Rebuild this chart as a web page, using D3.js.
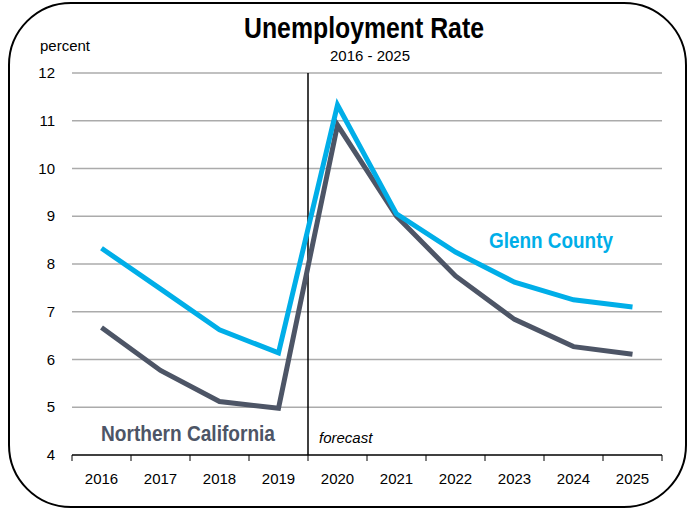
<!DOCTYPE html>
<html>
<head>
<meta charset="utf-8">
<script src="https://cdn.jsdelivr.net/npm/d3@7"></script>
<style>
  body { margin: 0; background: #fff; }
  svg text { font-family: "Liberation Sans Narrow", "Arial Narrow", "Liberation Sans", sans-serif; }
</style>
</head>
<body>
<svg id="chart" width="690" height="510"></svg>
<script>
const years = ["2016", "2017", "2018", "2019", "2020", "2021", "2022", "2023", "2024", "2025"];
const glennCounty = [8.33, 7.48, 6.62, 6.14, 11.33, 9.05, 8.25, 7.62, 7.25, 7.1];
const northernCalifornia = [6.67, 5.77, 5.12, 4.98, 10.91, 9.0, 7.75, 6.84, 6.27, 6.11];
const yTicks = [4, 5, 6, 7, 8, 9, 10, 11, 12];

const margin = {top: 73, right: 28, bottom: 55, left: 72};
const width = 690 - margin.left - margin.right;
const height = 510 - margin.top - margin.bottom;

const svg = d3.select("#chart");

// rounded frame
svg.append("rect")
    .attr("x", 9).attr("y", 3)
    .attr("width", 677).attr("height", 504)
    .attr("rx", 62).attr("ry", 62)
    .attr("fill", "none")
    .attr("stroke", "#000")
    .attr("stroke-width", 2);

const g = svg.append("g")
    .attr("transform", `translate(${margin.left},${margin.top})`);

const x = d3.scaleBand().domain(years).range([0, width]).padding(0);
const y = d3.scaleLinear().domain([4, 12]).range([height, 0]);
const cx = d => x(d) + x.bandwidth() / 2;

// gridlines
g.selectAll(".grid")
    .data(yTicks.filter(t => t > 4))
    .enter().append("line")
    .attr("x1", 0).attr("x2", width)
    .attr("y1", d => y(d)).attr("y2", d => y(d))
    .attr("stroke", "#ababab")
    .attr("stroke-width", 1.3);

// y labels
g.selectAll(".ylab")
    .data(yTicks)
    .enter().append("text")
    .attr("x", -17)
    .attr("y", d => y(d) + 5)
    .attr("text-anchor", "end")
    .attr("font-size", 15)
    .attr("fill", "#000")
    .text(d => d);

// x axis line + ticks at band boundaries
g.append("line")
    .attr("x1", 0).attr("x2", width)
    .attr("y1", height).attr("y2", height)
    .attr("stroke", "#000").attr("stroke-width", 1.5);

const boundaries = years.map(d => x(d)).concat([width]);
g.selectAll(".xtick")
    .data(boundaries)
    .enter().append("line")
    .attr("x1", d => d).attr("x2", d => d)
    .attr("y1", height).attr("y2", height + 6)
    .attr("stroke", "#000").attr("stroke-width", 1);

g.selectAll(".xlab")
    .data(years)
    .enter().append("text")
    .attr("x", d => cx(d))
    .attr("y", height + 29)
    .attr("text-anchor", "middle")
    .attr("font-size", 15)
    .text(d => d);

// forecast divider
g.append("line")
    .attr("x1", x("2020")).attr("x2", x("2020"))
    .attr("y1", 0).attr("y2", height)
    .attr("stroke", "#000").attr("stroke-width", 1.5);

g.append("text")
    .attr("x", x("2020") + 11)
    .attr("y", height - 12)
    .attr("font-size", 15)
    .attr("font-style", "italic")
    .text("forecast");

// lines
const line = d3.line()
    .x((d, i) => cx(years[i]))
    .y(d => y(d));

g.append("path")
    .datum(northernCalifornia)
    .attr("fill", "none")
    .attr("stroke", "#4d5566")
    .attr("stroke-width", 5)
    .attr("d", line);

g.append("path")
    .datum(glennCounty)
    .attr("fill", "none")
    .attr("stroke", "#00aee8")
    .attr("stroke-width", 5)
    .attr("d", line);

// series labels (narrow font squeezed to match)
g.append("text")
    .attr("x", 29).attr("y", height - 14)
    .attr("font-size", 22)
    .attr("font-weight", "bold")
    .attr("fill", "#4d5566")
    .attr("textLength", 174)
    .attr("lengthAdjust", "spacingAndGlyphs")
    .text("Northern California");

g.append("text")
    .attr("x", 417).attr("y", 175)
    .attr("font-size", 22)
    .attr("font-weight", "bold")
    .attr("fill", "#00aee8")
    .attr("textLength", 124)
    .attr("lengthAdjust", "spacingAndGlyphs")
    .text("Glenn County");

// titles
svg.append("text")
    .attr("x", 244).attr("y", 38)
    .attr("font-size", 29)
    .attr("font-weight", "bold")
    .attr("textLength", 240)
    .attr("lengthAdjust", "spacingAndGlyphs")
    .text("Unemployment Rate");

svg.append("text")
    .attr("x", 330).attr("y", 61)
    .attr("font-size", 15)
    .attr("textLength", 80)
    .attr("lengthAdjust", "spacingAndGlyphs")
    .text("2016 - 2025");

svg.append("text")
    .attr("x", 40).attr("y", 51)
    .attr("font-size", 15)
    .attr("textLength", 50)
    .attr("lengthAdjust", "spacingAndGlyphs")
    .text("percent");
</script>
</body>
</html>
